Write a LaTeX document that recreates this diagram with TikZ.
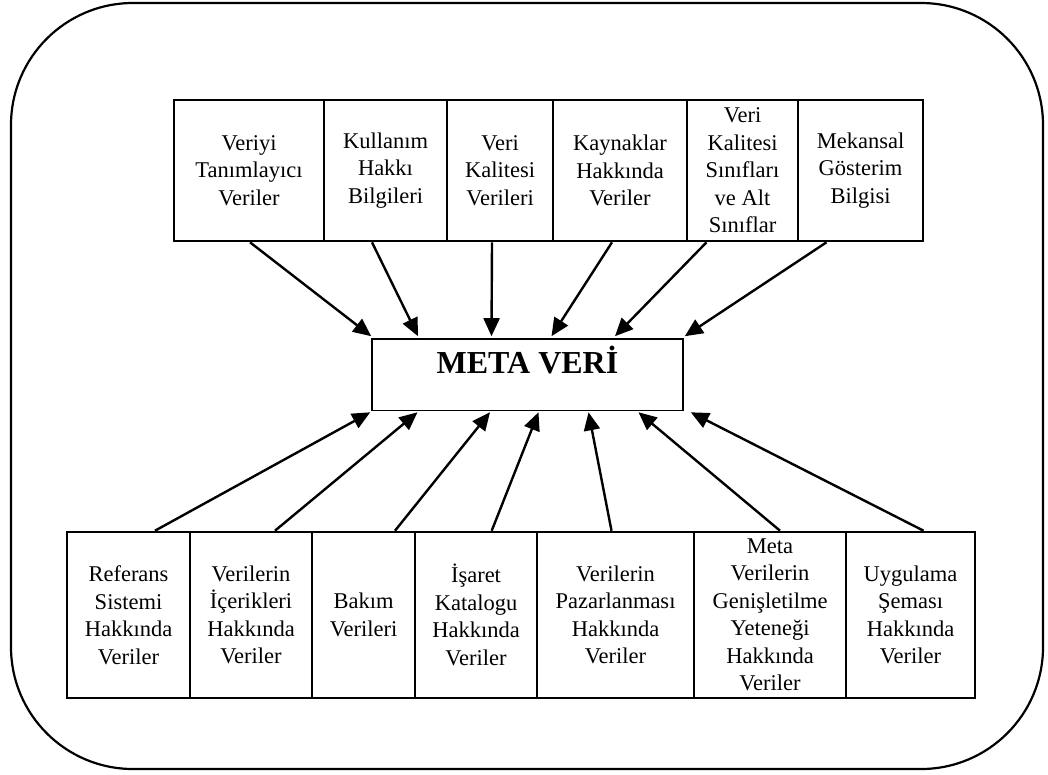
\documentclass[tikz,border=0pt]{standalone}
\usepackage{fontspec}
\setmainfont{Liberation Serif}
\usetikzlibrary{arrows.meta,calc}
\begin{document}
\begin{tikzpicture}[x=1pt,y=-1pt,
  box/.style={draw,line width=2.6pt,inner sep=0pt,align=center,
    font=\fontsize{22.5}{27.5}\selectfont},
  topbox/.style={box,minimum height=141pt},
  botbox/.style={box,minimum height=166pt},
  arr/.style={line width=2.4pt,-{Triangle[length=18pt,width=16pt]}}]
\useasboundingbox (0,0) rectangle (1048,774);
% frame
\draw[line width=2.2pt,rounded corners=122pt] (11,3) rectangle (1043,769);

% upper row
\node[topbox,minimum width=150pt] (t1) at (249,170.5) {Veriyi\\Tanımlayıcı\\Veriler};
\node[topbox,minimum width=123pt] (t2) at (385.5,170.5) {Kullanım\\Hakkı\\Bilgileri};
\node[topbox,minimum width=106pt] (t3) at (500,170.5) {Veri\\Kalitesi\\Verileri};
\node[topbox,minimum width=134pt] (t4) at (620,170.5) {Kaynaklar\\Hakkında\\Veriler};
\node[topbox,minimum width=111pt] (t5) at (742.5,170.5) {Veri\\Kalitesi\\Sınıfları\\ve Alt\\Sınıflar};
\node[topbox,minimum width=125pt] (t6) at (860.5,170.5) {Mekansal\\Gösterim\\Bilgisi};

% central box
\node[draw,line width=1.6pt,minimum width=311pt,minimum height=71.5pt,inner sep=0pt] (meta) at (527.5,374.75) {};
\node[anchor=base,inner sep=0pt,font=\fontsize{32}{36}\selectfont\bfseries] (metalabel) at (527.5,373) {META VERİ};

% lower row
\node[botbox,minimum width=123pt] (b1) at (128.5,615) {Referans\\Sistemi\\Hakkında\\Veriler};
\node[botbox,minimum width=122pt] (b2) at (251,615) {Verilerin\\İçerikleri\\Hakkında\\Veriler};
\node[botbox,minimum width=103pt] (b3) at (363.5,615) {Bakım\\Verileri};
\node[botbox,minimum width=122pt] (b4) at (476,615) {İşaret\\Katalogu\\Hakkında\\Veriler};
\node[botbox,minimum width=157pt] (b5) at (615.5,615) {Verilerin\\Pazarlanması\\Hakkında\\Veriler};
\node[botbox,minimum width=152pt] (b6) at (770,615) {Meta\\Verilerin\\Genişletilme\\Yeteneği\\Hakkında\\Veriler};
\node[botbox,minimum width=129pt] (b7) at (910.5,615) {Uygulama\\Şeması\\Hakkında\\Veriler};

% arrows from the upper row
\draw[arr] ($(t1.south)+(1,0)$) -- ($(meta.north west)+(0,-2)$);
\draw[arr] ($(t2.south)+(-13.5,0)$) -- ($(meta.north)+(-109.5,-2)$);
\draw[arr] ($(t3.south)+(-8,0)$) -- ($(meta.north)+(-36,-2)$);
\draw[arr] ($(t4.south)+(-8,0)$) -- ($(meta.north)+(24,-2)$);
\draw[arr] ($(t5.south)+(-36,0)$) -- ($(meta.north)+(87.5,-2)$);
\draw[arr] ($(t6.south)+(-34,0)$) -- ($(meta.north east)+(1,-2)$);

% arrows from the lower row
\draw[arr] ($(b1.north)+(26.5,0)$) -- ($(meta.south west)+(-1,1)$);
\draw[arr] ($(b2.north)+(24,0)$) -- ($(meta.south)+(-110,1)$);
\draw[arr] ($(b3.north)+(31.5,0)$) -- ($(meta.south)+(-37.5,1)$);
\draw[arr] ($(b4.north)+(15.7,0)$) -- ($(meta.south)+(11,1)$);
\draw[arr] ($(b5.north)+(-4,0)$) -- ($(meta.south)+(61,1)$);
\draw[arr] ($(b6.north)+(10,0)$) -- ($(meta.south)+(111,1)$);
\draw[arr] ($(b7.north)+(13,0)$) -- ($(meta.south east)+(7,1)$);
\end{tikzpicture}
\end{document}
